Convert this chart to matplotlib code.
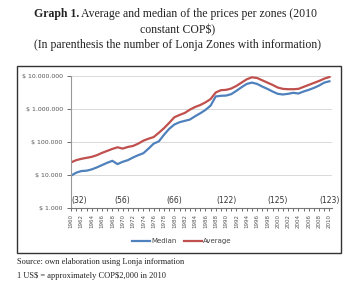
import matplotlib.pyplot as plt
from matplotlib.patches import Rectangle
from matplotlib.ticker import FixedLocator, MultipleLocator

plt.rcParams['text.parse_math'] = False

years = list(range(1960, 2011))

# median price per zone (2010 constant COP$)
median = [9550, 11750, 13180, 13490, 14790, 16980, 19950, 23440, 26920, 21380,
          25120, 28180, 33880, 39810, 45710, 63100, 89130, 104700, 166000, 251200,
          338800, 398100, 436500, 478600, 602600, 741300, 933300, 1259000, 2399000, 2512000,
          2550000, 2818000, 3548000, 4571000, 5754000, 6310000, 5754000, 4786000, 4074000, 3388000,
          2884000, 2754000, 2884000, 3090000, 2951000, 3388000, 3802000, 4365000, 5129000, 6310000,
          6918000]

# average price per zone
average = [23990, 28180, 30900, 33110, 35480, 39810, 46770, 53700, 61660, 69180,
           63100, 70790, 75860, 89130, 109600, 125900, 141300, 190500, 263000, 380200,
           562300, 660700, 758600, 955000, 1148000, 1318000, 1585000, 1995000, 3162000, 3715000,
           3802000, 4169000, 5012000, 6310000, 7943000, 9120000, 8710000, 7413000, 6310000, 5370000,
           4467000, 4074000, 3981000, 3981000, 4074000, 4677000, 5370000, 6166000, 7079000, 8318000,
           9333000]

# number of Lonja zones with information
zone_years = [1960, 1970, 1980, 1990, 2000, 2010]
zone_counts = [32, 56, 66, 122, 125, 123]

y_ticks = [1000, 10000, 100000, 1000000, 10000000]
y_labels = ['$ 1.000', '$ 10.000', '$ 100.000', '$ 1.000.000', '$ 10.000.000']

fig = plt.figure(figsize=(3.55, 2.86), dpi=100)
serif = 'Liberation Serif'
tcol = '#222222'

# title
fig.text(79/355, 1 - 14/286, 'Graph 1.', ha='right', va='center', fontsize=8.5,
         family=serif, weight='bold', color=tcol)
fig.text(81/355, 1 - 14/286, 'Average and median of the prices per zones (2010',
         ha='left', va='center', fontsize=8.5, family=serif, color=tcol)
fig.text(0.5, 1 - 30/286, 'constant COP$)', ha='center', va='center',
         fontsize=8.5, family=serif, color=tcol)
fig.text(0.5, 1 - 45/286, '(In parenthesis the number of Lonja Zones with information)',
         ha='center', va='center', fontsize=8.5, family=serif, color=tcol)

# chart frame
fig.patches.append(Rectangle((17/355, 1 - 253/286), 324/355, 187/286, transform=fig.transFigure,
                             fill=False, edgecolor='#333333', linewidth=1.0))

ax = fig.add_axes([71/355, 1 - 208/286, 261/355, 132/286])
ax.plot(years, median, color='#4F81BD', linewidth=1.6, label='Median')
ax.plot(years, average, color='#C0504D', linewidth=1.6, label='Average')
ax.set_yscale('log')
ax.set_ylim(1000, 10000000)
ax.set_xlim(1960, 2010.5)
ax.yaxis.set_major_locator(FixedLocator(y_ticks))
ax.yaxis.set_minor_locator(FixedLocator([]))
ax.set_yticks(y_ticks)
ax.set_yticklabels(y_labels, fontsize=4.5, color='#555555')
ax.set_xticks(years[::2])
ax.set_xticklabels([str(y) for y in years[::2]], rotation=90, fontsize=4, color='#555555')
ax.xaxis.set_minor_locator(MultipleLocator(1))
ax.tick_params(axis='x', which='both', direction='out', length=2.5, width=0.6, color='#555555', pad=2)
ax.tick_params(axis='y', which='major', direction='out', length=3, width=0.6, color='#555555', pad=3)
ax.grid(axis='y', color='#d9d9d9', linewidth=0.7)
ax.set_axisbelow(True)
for s in ['top', 'right']:
    ax.spines[s].set_visible(False)
ax.spines['left'].set_color('#999999')
ax.spines['bottom'].set_color('#777777')
ax.spines['left'].set_linewidth(0.8)
ax.spines['bottom'].set_linewidth(0.8)

for yr, n in zip(zone_years, zone_counts):
    ha = 'left' if yr == 1960 else 'center'
    ax.text(yr, 1250, '(%d)' % n, ha=ha, va='bottom', fontsize=5.5, color='#333333')

fig.legend(loc='center', bbox_to_anchor=(182/355, 1 - 241/286), ncol=2, frameon=False,
           fontsize=5, handlelength=2.6, handletextpad=0.2, columnspacing=1.0, labelcolor='#444444')

# footer
fig.text(17/355, 1 - 262/286, 'Source: own elaboration using Lonja information', ha='left', va='center',
         fontsize=6, family=serif, color=tcol)
fig.text(17/355, 1 - 276/286, '1 US$ = approximately COP$2,000 in 2010', ha='left', va='center',
         fontsize=6, family=serif, color=tcol)

plt.savefig('out.png', dpi=100)
